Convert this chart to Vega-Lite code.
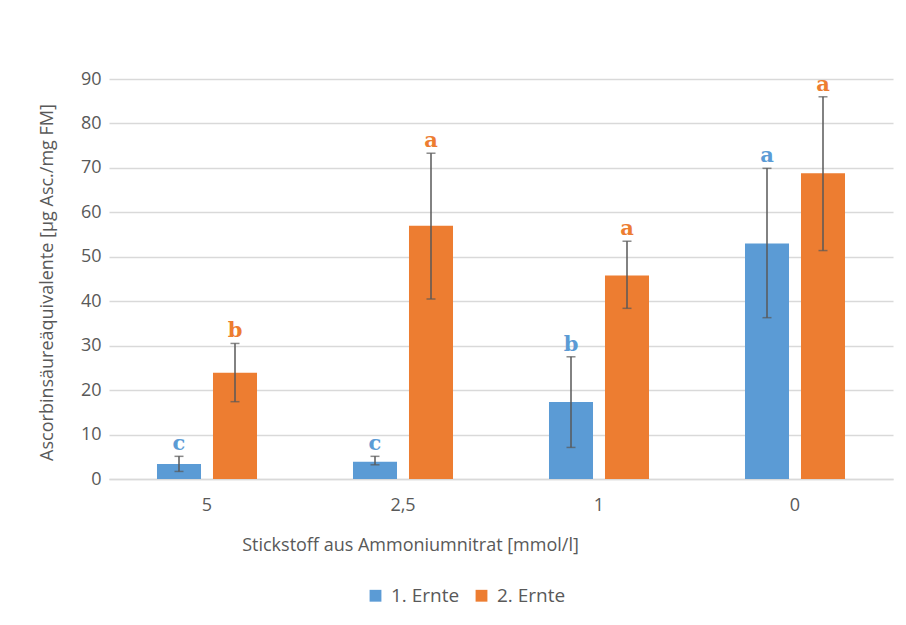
{
  "$schema": "https://vega.github.io/schema/vega-lite/v6.json",
  "autosize": "none",
  "width": 784,
  "height": 400,
  "padding": {"left": 109, "top": 79, "right": 13, "bottom": 146},
  "background": "white",
  "config": {
    "view": {"stroke": null},
    "font": "Open Sans"
  },
  "data": {
    "values": [
      {"n": "5", "serie": "1. Ernte", "value": 3.4, "lo": 1.7, "hi": 5.1, "letter": "c"},
      {"n": "5", "serie": "2. Ernte", "value": 23.9, "lo": 17.4, "hi": 30.5, "letter": "b"},
      {"n": "2,5", "serie": "1. Ernte", "value": 3.9, "lo": 3.2, "hi": 5.1, "letter": "c"},
      {"n": "2,5", "serie": "2. Ernte", "value": 57.0, "lo": 40.5, "hi": 73.3, "letter": "a"},
      {"n": "1", "serie": "1. Ernte", "value": 17.3, "lo": 7.1, "hi": 27.5, "letter": "b"},
      {"n": "1", "serie": "2. Ernte", "value": 45.8, "lo": 38.4, "hi": 53.5, "letter": "a"},
      {"n": "0", "serie": "1. Ernte", "value": 53.0, "lo": 36.3, "hi": 69.9, "letter": "a"},
      {"n": "0", "serie": "2. Ernte", "value": 68.8, "lo": 51.4, "hi": 86.0, "letter": "a"}
    ]
  },
  "encoding": {
    "x": {
      "field": "n", "type": "nominal", "sort": ["5", "2,5", "1", "0"],
      "scale": {"paddingInner": 0, "paddingOuter": 0},
      "axis": {
        "title": "Stickstoff aus Ammoniumnitrat [mmol/l]",
        "titleFont": "Open Sans", "titleFontSize": 18, "titleFontWeight": "normal", "titleColor": "#595959",
        "titleX": 301, "titleY": 66, "titleAlign": "center", "titleBaseline": "middle",
        "labelAngle": 0, "labelFont": "Open Sans", "labelFontSize": 18, "labelColor": "#595959",
        "labelPadding": 17, "ticks": false, "domainColor": "#d9d9d9", "domainWidth": 1.5
      }
    },
    "xOffset": {
      "field": "serie", "type": "nominal",
      "scale": {"paddingInner": 0.214, "paddingOuter": 0.857}
    }
  },
  "layer": [
    {
      "mark": {"type": "bar"},
      "encoding": {
        "y": {
          "field": "value", "type": "quantitative",
          "scale": {"domain": [0, 90]},
          "axis": {
            "title": "Ascorbinsäureäquivalente [µg Asc./mg FM]",
            "titleFont": "Open Sans", "titleFontSize": 18, "titleFontWeight": "normal", "titleColor": "#595959",
            "titleX": -62, "titleY": 203, "titleAlign": "center", "titleBaseline": "middle",
            "values": [0, 10, 20, 30, 40, 50, 60, 70, 80, 90],
            "labelFont": "Open Sans", "labelFontSize": 18, "labelColor": "#595959", "labelPadding": 8,
            "ticks": false, "domain": false, "gridColor": "#d9d9d9", "gridWidth": 1.5
          }
        },
        "color": {
          "field": "serie", "type": "nominal",
          "scale": {"domain": ["1. Ernte", "2. Ernte"], "range": ["#5B9BD5", "#ED7D31"]},
          "legend": {
            "title": null, "orient": "none", "direction": "horizontal",
            "legendX": 257, "legendY": 507,
            "symbolType": "square", "symbolSize": 140, "symbolStrokeWidth": 0,
            "labelFont": "Open Sans", "labelFontSize": 19, "labelColor": "#595959",
            "columnPadding": 12, "labelOffset": 6
          }
        }
      }
    },
    {
      "mark": {"type": "rule", "color": "#595959", "strokeWidth": 1.5},
      "encoding": {
        "y": {"field": "lo", "type": "quantitative"},
        "y2": {"field": "hi"}
      }
    },
    {
      "mark": {"type": "tick", "color": "#595959", "size": 9, "thickness": 1.5, "orient": "horizontal"},
      "encoding": {"y": {"field": "lo", "type": "quantitative"}}
    },
    {
      "mark": {"type": "tick", "color": "#595959", "size": 9, "thickness": 1.5, "orient": "horizontal"},
      "encoding": {"y": {"field": "hi", "type": "quantitative"}}
    },
    {
      "mark": {"type": "text", "font": "DejaVu Serif", "fontSize": 21, "fontWeight": 600, "baseline": "alphabetic", "dy": -6},
      "encoding": {
        "y": {"field": "hi", "type": "quantitative"},
        "text": {"field": "letter"},
        "color": {"field": "serie", "type": "nominal", "legend": null}
      }
    }
  ]
}
